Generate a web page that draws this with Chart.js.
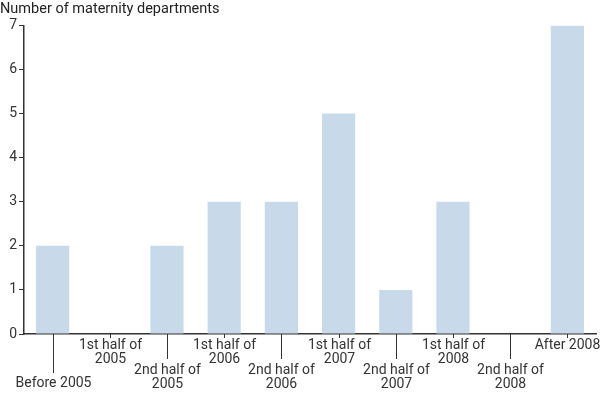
<!DOCTYPE html>
<html>
<head>
<meta charset="utf-8">
<title>Maternity departments</title>
<script src="https://cdn.jsdelivr.net/npm/chart.js@4"></script>
<style>
    html, body { margin: 0; padding: 0; background: #fff; }
    #wrap { width: 600px; height: 393px; position: relative; }
</style>
</head>
<body>
<div id="wrap"><canvas id="chart"></canvas></div>
<script>

    // data
    const labels = [
        ["Before 2005"],
        ["1st half of", "2005"],
        ["2nd half of", "2005"],
        ["1st half of", "2006"],
        ["2nd half of", "2006"],
        ["1st half of", "2007"],
        ["2nd half of", "2007"],
        ["1st half of", "2008"],
        ["2nd half of", "2008"],
        ["After 2008"]
    ]
    const departments = [2, 0, 2, 3, 3, 5, 1, 3, 0, 7]
    const yTicks = [0, 1, 2, 3, 4, 5, 6, 7]

    const ink = '#333'
    const family = 'Roboto, "DejaVu Sans", sans-serif'
    const font = '14px ' + family

    // staggered x labels with their leader lines
    const staggerLabels = {
        id: 'staggerLabels',
        afterDraw(chart) {
            const ctx = chart.ctx
            const x = chart.scales.x
            const base = chart.chartArea.bottom
            ctx.save()
            ctx.strokeStyle = ink
            ctx.lineWidth = 1
            ctx.fillStyle = ink
            ctx.font = font
            ctx.textAlign = 'center'
            ctx.textBaseline = 'middle'
            labels.forEach((lines, i) => {
                const px = Math.round(x.getPixelForTick(i)) + 0.5
                const low = i % 2 === 0
                let tickEnd, firstLine
                if (low) {
                    firstLine = lines.length === 1 ? 383 : 370
                    tickEnd = lines.length === 1 ? 373 : 359
                } else {
                    firstLine = 345
                    tickEnd = base + 4
                }
                ctx.beginPath()
                ctx.moveTo(px, base)
                ctx.lineTo(px, tickEnd)
                ctx.stroke()
                lines.forEach((t, j) => ctx.fillText(t, px, firstLine + j * 14))
            })
            ctx.restore()
        }
    }

    new Chart(document.getElementById('chart'), {
        type: 'bar',
        data: {
            labels: labels,
            datasets: [{
                data: departments,
                backgroundColor: '#c8d9ea',
                barPercentage: 0.58,
                categoryPercentage: 1
            }]
        },
        options: {
            responsive: true,
            maintainAspectRatio: false,
            animation: false,
            layout: { padding: { left: 0, right: 4, top: 0, bottom: 51 } },
            plugins: {
                legend: { display: false },
                tooltip: { enabled: false },
                title: {
                    display: true,
                    text: 'Number of maternity departments',
                    align: 'start',
                    color: '#222',
                    font: { family: family, size: 14.5, weight: 'normal' },
                    padding: { top: 1, bottom: 7 }
                }
            },
            scales: {
                x: {
                    grid: { display: false },
                    border: { color: ink, width: 1.5 },
                    ticks: { display: false }
                },
                y: {
                    min: 0,
                    max: 7,
                    afterBuildTicks: s => { s.ticks = yTicks.map(v => ({ value: v })) },
                    afterFit: s => { s.width = 24 },
                    grid: { drawOnChartArea: false, tickLength: 5, color: ink },
                    border: { color: ink, width: 1.5 },
                    ticks: {
                        color: ink,
                        padding: 2,
                        font: { family: family, size: 14 }
                    }
                }
            }
        },
        plugins: [staggerLabels]
    })

</script>
</body>
</html>
